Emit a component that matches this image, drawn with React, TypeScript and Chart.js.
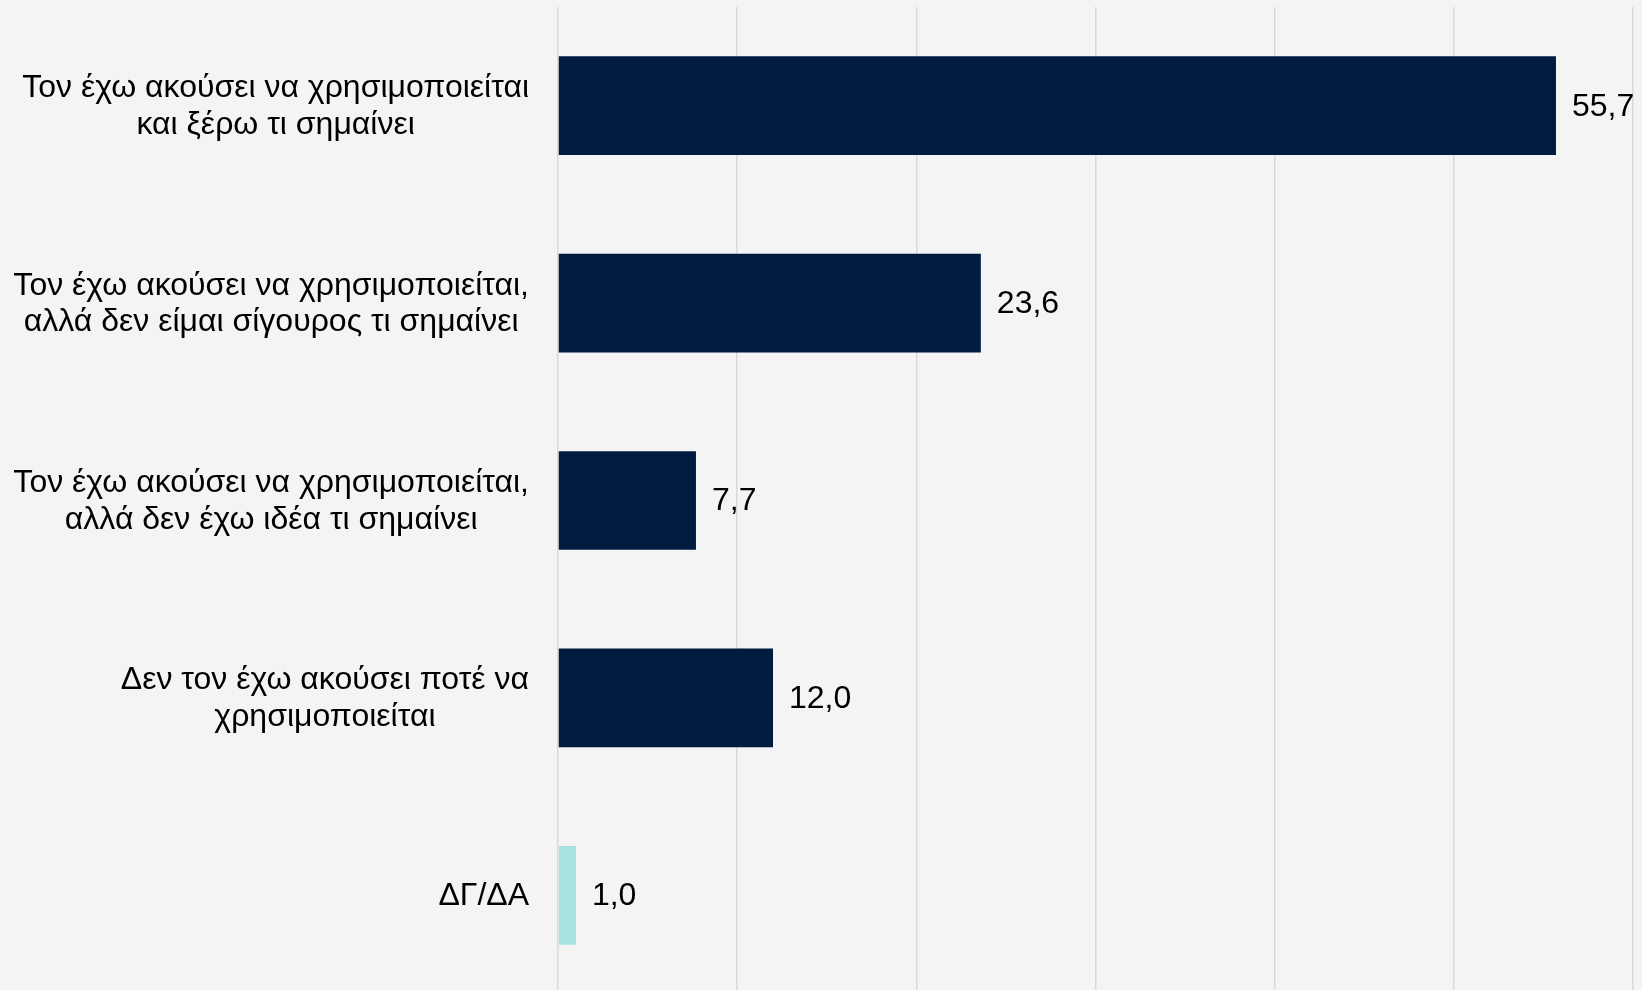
import React, { useEffect, useRef } from "react";
import { Chart, registerables } from "chart.js";

Chart.register(...registerables);

const categories: string[][] = [
  ["Τον έχω ακούσει να χρησιμοποιείται", "και ξέρω τι σημαίνει"],
  ["Τον έχω ακούσει να χρησιμοποιείται,", "αλλά δεν είμαι σίγουρος τι σημαίνει"],
  ["Τον έχω ακούσει να χρησιμοποιείται,", "αλλά δεν έχω ιδέα τι σημαίνει"],
  ["Δεν τον έχω ακούσει ποτέ να", "χρησιμοποιείται"],
  ["ΔΓ/ΔΑ"],
];
const values: number[] = [55.7, 23.6, 7.7, 12.0, 1.0];
const barColors: string[] = ["#011b3f", "#011b3f", "#011b3f", "#011b3f", "#a8e1e2"];
const axisMin = 0;
const axisMax = 60;
const axisStep = 10;

const FONT = '32px "Liberation Sans", Arial, sans-serif';

const labelPlugin = {
  id: "customLabels",
  afterDatasetsDraw(chart: any) {
    const ctx = chart.ctx as CanvasRenderingContext2D;
    const area = chart.chartArea;
    const yScale = chart.scales.y;
    const meta = chart.getDatasetMeta(0);
    ctx.save();
    ctx.font = FONT;
    ctx.fillStyle = "#000000";
    ctx.textBaseline = "middle";
    // category labels
    const lineH = 36.5;
    categories.forEach((lines, i) => {
      const cy = yScale.getPixelForValue(i);
      let maxW = 0;
      lines.forEach((l) => {
        maxW = Math.max(maxW, ctx.measureText(l).width);
      });
      const right = area.left - 29;
      const cx = right - maxW / 2;
      ctx.textAlign = "center";
      const startY = cy - ((lines.length - 1) * lineH) / 2;
      lines.forEach((l, j) => {
        ctx.fillText(l, cx, startY + j * lineH + 1);
      });
    });
    // value labels
    ctx.textAlign = "left";
    meta.data.forEach((bar: any, i: number) => {
      const txt = values[i].toFixed(1).replace(".", ",");
      ctx.fillText(txt, bar.x + 16, bar.y + 1);
    });
    ctx.restore();
  },
};

const bgPlugin = {
  id: "bg",
  beforeDraw(chart: any) {
    const ctx = chart.ctx;
    ctx.save();
    ctx.fillStyle = "#f4f4f4";
    ctx.fillRect(0, 0, chart.width, chart.height);
    ctx.restore();
  },
};

export default function App() {
  const ref = useRef<HTMLCanvasElement | null>(null);
  useEffect(() => {
    document.body.style.margin = "0";
    document.body.style.overflow = "hidden";
    document.documentElement.style.overflow = "hidden";
    document.body.style.background = "#f4f4f4";
    if (!ref.current) return;
    const chart = new Chart(ref.current, {
      type: "bar",
      data: {
        labels: categories.map((c) => c.join(" ")),
        datasets: [
          {
            data: values,
            backgroundColor: barColors,
            borderWidth: 0,
            barPercentage: 0.5,
            categoryPercentage: 1.0,
          },
        ],
      },
      options: {
        indexAxis: "y",
        animation: false,
        responsive: false,
        maintainAspectRatio: false,
        devicePixelRatio: 1,
        layout: { padding: { left: 558, right: 9, top: 7, bottom: 1 } },
        plugins: {
          legend: { display: false },
          tooltip: { enabled: false },
        },
        scales: {
          x: {
            type: "linear",
            min: axisMin,
            max: axisMax,
            ticks: { display: false, stepSize: axisStep },
            grid: { color: "#d9d9d9", lineWidth: 1.5, drawTicks: false },
            border: { display: false },
          },
          y: {
            type: "category",
            display: false,
          },
        },
      },
      plugins: [bgPlugin, labelPlugin],
    });
    return () => chart.destroy();
  }, []);
  return (
    <div style={{ position: "fixed", left: 0, top: 0, width: 1642, height: 995, background: "#f4f4f4" }}>
      <canvas ref={ref} width={1642} height={995} style={{ width: 1642, height: 995, display: "block" }} />
    </div>
  );
}
